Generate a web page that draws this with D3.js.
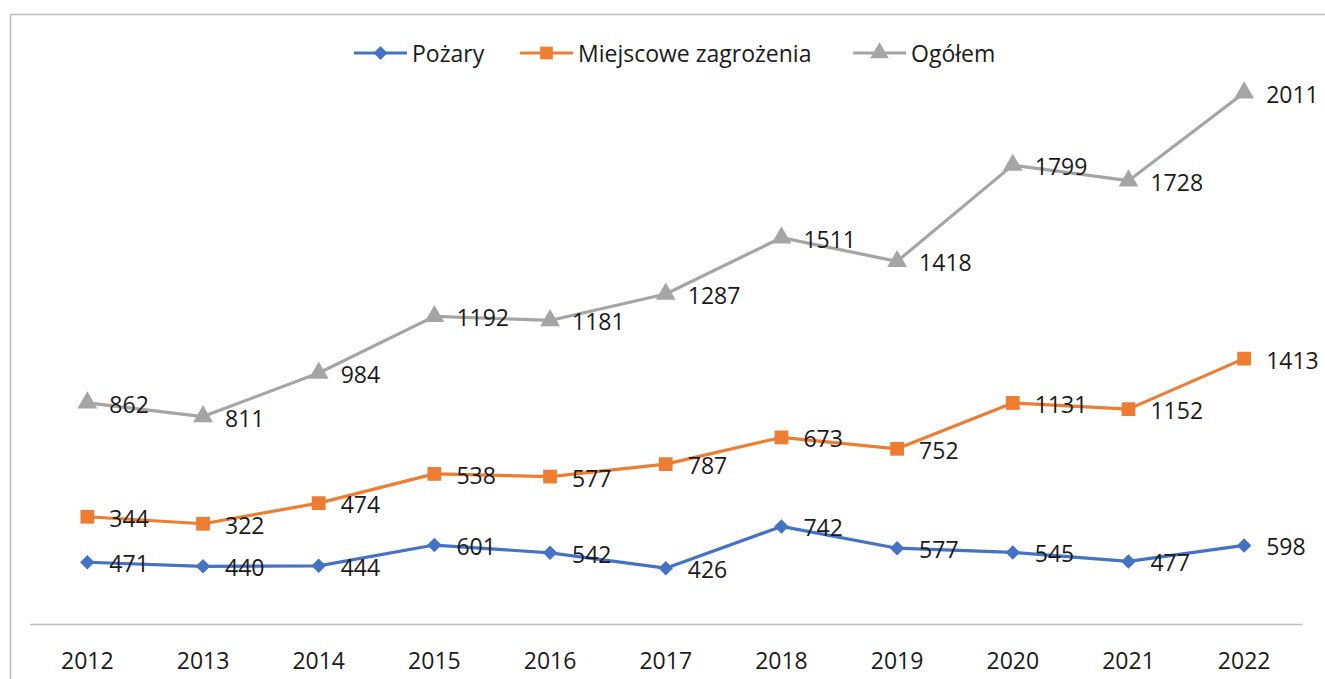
<!DOCTYPE html>
<html>
<head>
<meta charset="utf-8">
<script src="https://cdn.jsdelivr.net/npm/d3@7"></script>
<style>
html,body{margin:0;padding:0;background:#fff;}
svg{display:block;}
text{font-family:"Open Sans",sans-serif;fill:#1a1a1a;}
</style>
</head>
<body>
<svg id="chart" width="1325" height="679"></svg>
<script>
const years = ["2012","2013","2014","2015","2016","2017","2018","2019","2020","2021","2022"];
const pozary = [471, 440, 444, 601, 542, 426, 742, 577, 545, 477, 598];
const miejscowe = [344, 322, 474, 538, 577, 787, 673, 752, 1131, 1152, 1413];
const ogolem = [862, 811, 984, 1192, 1181, 1287, 1511, 1418, 1799, 1728, 2011];
const seriesNames = ["Pożary", "Miejscowe zagrożenia", "Ogółem"];
const seriesColors = ["#4472C4", "#ED7D31", "#A5A5A5"];
const seriesMarkers = [d3.symbolSquare, d3.symbolSquare, d3.symbolTriangle];
const markerRotate = [45, 0, 0];

const svg = d3.select("#chart");
const W = 1325, H = 679;

// frame
svg.append("rect").attr("x", 10.5).attr("y", 14.5).attr("width", W + 20).attr("height", H + 20)
  .attr("fill", "none").attr("stroke", "#BDBDBD").attr("stroke-width", 1.5);

// stacked line chart (as in the source)
const raw = [pozary, miejscowe, ogolem];
const stacked = [];
let acc = years.map(() => 0);
raw.forEach(arr => {
  acc = acc.map((v, i) => v + arr[i]);
  stacked.push(acc.slice());
});

const x = d3.scaleBand().domain(years).range([29.5, 1302]);
const y = d3.scaleLinear().domain([0, 4500]).range([624.5, 29.6]);
const cx = d => x(d) + x.bandwidth() / 2;

// axis
const axisG = svg.append("g").attr("transform", "translate(0,624)")
  .call(d3.axisBottom(x).tickSize(0).tickPadding(0));
axisG.select(".domain").attr("stroke", "#BFBFBF").attr("stroke-width", 1.5);
axisG.selectAll("text").attr("font-size", 23).attr("y", 45).attr("dy", null)
  .style("font-family", "'Open Sans',sans-serif").attr("fill", "#1a1a1a");

const line = d3.line().x((d, i) => cx(years[i])).y(d => y(d));

const sizes = [105, 190, 170];
raw.forEach((arr, s) => {
  const g = svg.append("g");
  g.append("path").datum(stacked[s]).attr("d", line)
    .attr("fill", "none").attr("stroke", seriesColors[s]).attr("stroke-width", 3.2)
    .attr("stroke-linejoin", "round");
  g.selectAll("path.m").data(stacked[s]).join("path").attr("class", "m")
    .attr("transform", (d, i) => `translate(${cx(years[i])},${y(d)}) rotate(${markerRotate[s]})`)
    .attr("d", d3.symbol().type(seriesMarkers[s]).size(sizes[s]))
    .attr("fill", seriesColors[s]);
  g.selectAll("text").data(arr).join("text")
    .attr("x", (d, i) => cx(years[i]) + 22)
    .attr("y", (d, i) => y(stacked[s][i]) + 10)
    .attr("font-size", 23)
    .text(d => d);
});

// legend
const legendX = [354, 520, 853];
const leg = svg.append("g");
seriesNames.forEach((n, s) => {
  const g = leg.append("g").attr("transform", `translate(${legendX[s]},53)`);
  g.append("line").attr("x1", 0).attr("x2", 53).attr("y1", 0).attr("y2", 0)
    .attr("stroke", seriesColors[s]).attr("stroke-width", 3.2);
  g.append("path").attr("transform", `translate(26.5,0) rotate(${markerRotate[s]})`)
    .attr("d", d3.symbol().type(seriesMarkers[s]).size([95, 160, 150][s]))
    .attr("fill", seriesColors[s]);
  g.append("text").attr("x", 58).attr("y", 9).attr("font-size", 23).text(n);
});
</script>
</body>
</html>
